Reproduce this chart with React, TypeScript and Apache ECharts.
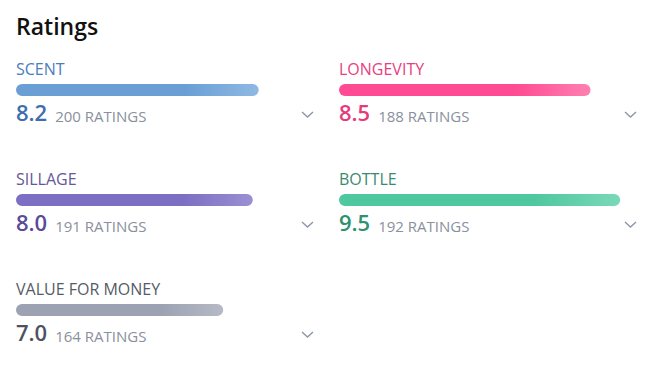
import React, { useEffect, useRef } from "react";
import * as echarts from "echarts";

const titleText = "Ratings";
const categories = ["SCENT", "LONGEVITY", "SILLAGE", "BOTTLE", "VALUE FOR MONEY"];
const scores = [8.2, 8.5, 8.0, 9.5, 7.0];
const ratingCounts = [200, 188, 191, 192, 164];
const maxScore = 10;

const labelColors = ["#4a7dbd", "#e8407f", "#64569a", "#3b8a70", "#555b66"];
const scoreColors = ["#3d6fae", "#e63a7b", "#5a4b9a", "#2e9170", "#4c5260"];
const barStart = ["#6a9fd5", "#ff4b93", "#7c6ec2", "#50c89f", "#9da2b2"];
const barEnd = ["#8fb9e3", "#ff80b1", "#9b8fd3", "#7ad8b8", "#b6bac6"];

const FONT = "'Open Sans', 'Noto Sans', sans-serif";

export default function App() {
  const ref = useRef<HTMLDivElement>(null);
  useEffect(() => {
    const chart = echarts.init(ref.current!, null, { renderer: "svg" });
    const colX = [16, 339];
    const barW = 296;
    const ctx = document.createElement("canvas").getContext("2d")!;
    ctx.font = `600 22px 'Open Sans'`;

    const grids: any[] = [];
    const xAxes: any[] = [];
    const yAxes: any[] = [];
    const series: any[] = [];
    const graphics: any[] = [
      {
        type: "text",
        style: { text: titleText, x: 16, y: 26, fontSize: 23, fontWeight: 600, fontFamily: FONT, fill: "#111", verticalAlign: "middle" },
      },
    ];

    categories.forEach((cat, i) => {
      const col = i % 2;
      const row = Math.floor(i / 2);
      const x0 = colX[col];
      const cy = 90 + row * 110;
      grids.push({ left: x0, top: cy - 6, width: barW, height: 12, containLabel: false });
      xAxes.push({ type: "value", gridIndex: i, min: 0, max: maxScore, show: false });
      yAxes.push({ type: "category", gridIndex: i, data: [cat], show: false });
      series.push({
        type: "bar",
        xAxisIndex: i,
        yAxisIndex: i,
        barWidth: 12,
        data: [scores[i]],
        itemStyle: {
          borderRadius: 6,
          color: new echarts.graphic.LinearGradient(0, 0, 1, 0, [
            { offset: 0, color: barStart[i] },
            { offset: 0.7, color: barStart[i] },
            { offset: 1, color: barEnd[i] },
          ]),
        },
        silent: true,
      });
      const scoreStr = scores[i].toFixed(1);
      const sw = ctx.measureText(scoreStr).width;
      graphics.push(
        {
          type: "text",
          style: { text: cat, x: x0, y: cy - 21, fontSize: 16, fontFamily: FONT, fill: labelColors[i], verticalAlign: "middle" },
        },
        {
          type: "text",
          style: { text: scoreStr, x: x0, y: cy + 21.5, fontSize: 22, fontWeight: 600, fontFamily: FONT, fill: scoreColors[i], verticalAlign: "middle" },
        },
        {
          type: "text",
          style: { text: `${ratingCounts[i]} RATINGS`, x: x0 + sw + 8, y: cy + 26, fontSize: 15, fontFamily: FONT, fill: "#8a909d", verticalAlign: "middle" },
        },
        {
          type: "polyline",
          shape: { points: [[x0 + 286, cy + 22], [x0 + 291.5, cy + 27], [x0 + 297, cy + 22]] },
          style: { stroke: "#8e96a6", lineWidth: 1.4, fill: null },
        }
      );
    });

    chart.setOption({
      animation: false,
      backgroundColor: "#ffffff",
      grid: grids,
      xAxis: xAxes,
      yAxis: yAxes,
      series,
      graphic: graphics,
    });
    return () => chart.dispose();
  }, []);
  return <div ref={ref} style={{ position: "fixed", left: 0, top: 0, width: 663, height: 383 }} />;
}
